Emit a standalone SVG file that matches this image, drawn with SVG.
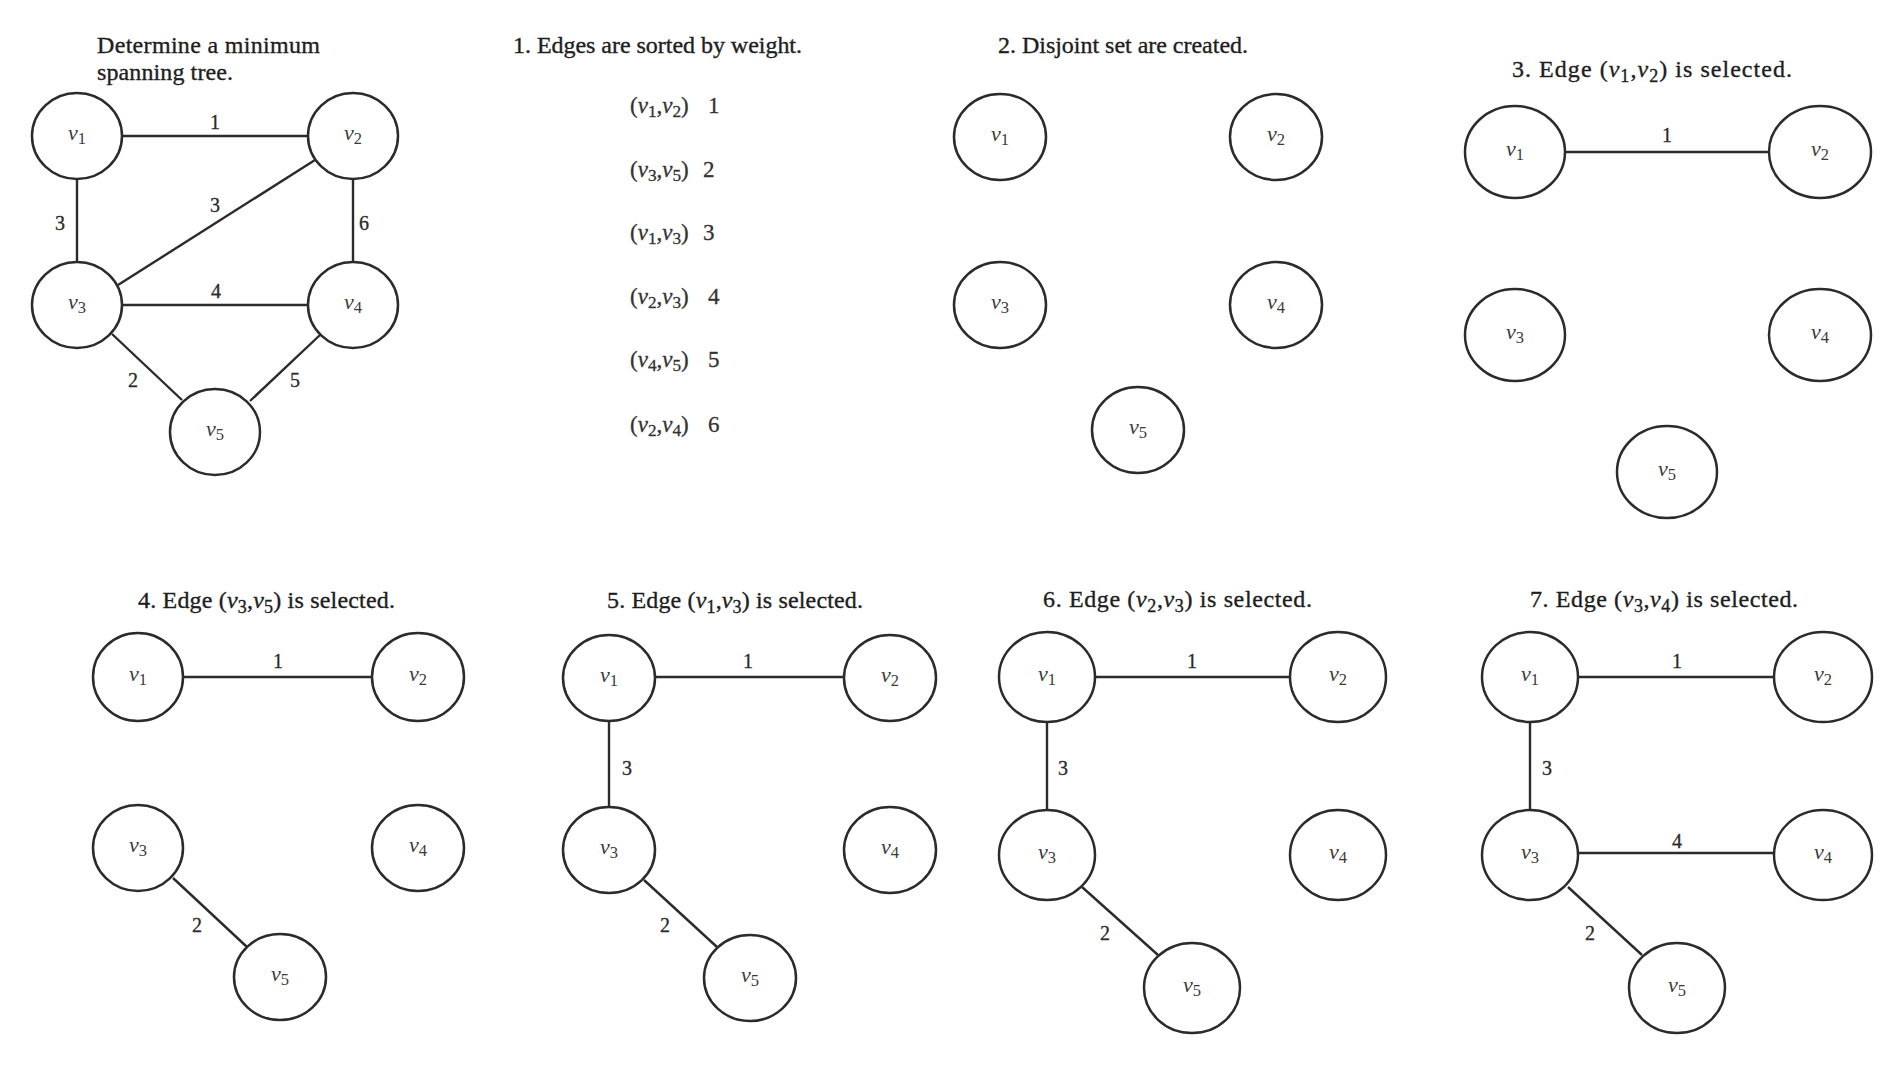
<svg xmlns="http://www.w3.org/2000/svg" width="1902" height="1070" viewBox="0 0 1902 1070">
<style>
.n{fill:none;stroke:#2b2b2b;stroke-width:2.5}
.e{stroke:#2b2b2b;stroke-width:2.4;fill:none}
.t{font-family:"Liberation Serif",serif;font-size:24px;fill:#1e1e1e;stroke:#1e1e1e;stroke-width:0.35}
.l{font-family:"Liberation Serif",serif;font-size:23px;fill:#333;stroke:#333;stroke-width:0.3}
.w{font-family:"Liberation Serif",serif;font-size:20px;fill:#2a2a2a;stroke:#2a2a2a;stroke-width:0.3;text-anchor:middle}
.v{font-family:"Liberation Serif",serif;font-size:22px;fill:#3a3a3a;text-anchor:middle}
.i{font-style:italic}
.s{font-size:75%}
</style>
<rect width="1902" height="1070" fill="#ffffff"/>

<!-- Titles -->
<g id="titles">
<text class="t" x="97" y="53" textLength="223">Determine a minimum</text>
<text class="t" x="97" y="80" textLength="136">spanning tree.</text>
<text class="t" x="513" y="53" textLength="289">1. Edges are sorted by weight.</text>
<text class="t" x="998" y="53" textLength="250">2. Disjoint set are created.</text>
<text class="t" x="1512" y="77" textLength="280">3. Edge (<tspan class="i">v</tspan><tspan class="s" dy="5">1</tspan><tspan dy="-5">,</tspan><tspan class="i">v</tspan><tspan class="s" dy="5">2</tspan><tspan dy="-5">) is selected.</tspan></text>
<text class="t" x="138" y="608" textLength="257">4. Edge (<tspan class="i">v</tspan><tspan class="s" dy="5">3</tspan><tspan dy="-5">,</tspan><tspan class="i">v</tspan><tspan class="s" dy="5">5</tspan><tspan dy="-5">) is selected.</tspan></text>
<text class="t" x="607" y="608" textLength="256">5. Edge (<tspan class="i">v</tspan><tspan class="s" dy="5">1</tspan><tspan dy="-5">,</tspan><tspan class="i">v</tspan><tspan class="s" dy="5">3</tspan><tspan dy="-5">) is selected.</tspan></text>
<text class="t" x="1043" y="607" textLength="269">6. Edge (<tspan class="i">v</tspan><tspan class="s" dy="5">2</tspan><tspan dy="-5">,</tspan><tspan class="i">v</tspan><tspan class="s" dy="5">3</tspan><tspan dy="-5">) is selected.</tspan></text>
<text class="t" x="1530" y="607" textLength="268">7. Edge (<tspan class="i">v</tspan><tspan class="s" dy="5">3</tspan><tspan dy="-5">,</tspan><tspan class="i">v</tspan><tspan class="s" dy="5">4</tspan><tspan dy="-5">) is selected.</tspan></text>
</g>

<!-- Sorted edge list -->
<g id="sorted-list">
<text class="l" x="630" y="113">(<tspan class="i">v</tspan><tspan class="s" dy="4">1</tspan><tspan dy="-4">,</tspan><tspan class="i">v</tspan><tspan class="s" dy="4">2</tspan><tspan dy="-4">)</tspan></text><text class="l" x="708" y="113">1</text>
<text class="l" x="630" y="177">(<tspan class="i">v</tspan><tspan class="s" dy="4">3</tspan><tspan dy="-4">,</tspan><tspan class="i">v</tspan><tspan class="s" dy="4">5</tspan><tspan dy="-4">)</tspan></text><text class="l" x="703" y="177">2</text>
<text class="l" x="630" y="240">(<tspan class="i">v</tspan><tspan class="s" dy="4">1</tspan><tspan dy="-4">,</tspan><tspan class="i">v</tspan><tspan class="s" dy="4">3</tspan><tspan dy="-4">)</tspan></text><text class="l" x="703" y="240">3</text>
<text class="l" x="630" y="304">(<tspan class="i">v</tspan><tspan class="s" dy="4">2</tspan><tspan dy="-4">,</tspan><tspan class="i">v</tspan><tspan class="s" dy="4">3</tspan><tspan dy="-4">)</tspan></text><text class="l" x="708" y="304">4</text>
<text class="l" x="630" y="367">(<tspan class="i">v</tspan><tspan class="s" dy="4">4</tspan><tspan dy="-4">,</tspan><tspan class="i">v</tspan><tspan class="s" dy="4">5</tspan><tspan dy="-4">)</tspan></text><text class="l" x="708" y="367">5</text>
<text class="l" x="630" y="432">(<tspan class="i">v</tspan><tspan class="s" dy="4">2</tspan><tspan dy="-4">,</tspan><tspan class="i">v</tspan><tspan class="s" dy="4">4</tspan><tspan dy="-4">)</tspan></text><text class="l" x="708" y="432">6</text>
</g>

<!-- Connectors -->
<g id="connectors">
<!-- panel 0 -->
<line class="e" x1="122" y1="136" x2="308" y2="136"/>
<line class="e" x1="77" y1="179" x2="77" y2="262"/>
<line class="e" x1="315" y1="160" x2="118" y2="285"/>
<line class="e" x1="353" y1="179" x2="353" y2="262"/>
<line class="e" x1="122" y1="305" x2="308" y2="305"/>
<line class="e" x1="112" y1="334" x2="182" y2="400"/>
<line class="e" x1="320" y1="335" x2="250" y2="401"/>
<!-- panel 3 -->
<line class="e" x1="1565" y1="152" x2="1768" y2="152"/>
<!-- panel 4 -->
<line class="e" x1="183" y1="677" x2="373" y2="677"/>
<line class="e" x1="173" y1="878" x2="247" y2="947"/>
<!-- panel 5 -->
<line class="e" x1="655" y1="677" x2="845" y2="677"/>
<line class="e" x1="609" y1="721" x2="609" y2="807"/>
<line class="e" x1="644" y1="880" x2="717" y2="947"/>
<!-- panel 6 -->
<line class="e" x1="1095" y1="677" x2="1290" y2="677"/>
<line class="e" x1="1047" y1="722" x2="1047" y2="810"/>
<line class="e" x1="1082" y1="887" x2="1158" y2="955"/>
<!-- panel 7 -->
<line class="e" x1="1578" y1="677" x2="1775" y2="677"/>
<line class="e" x1="1530" y1="722" x2="1530" y2="810"/>
<line class="e" x1="1578" y1="853" x2="1775" y2="853"/>
<line class="e" x1="1568" y1="887" x2="1642" y2="955"/>
</g>

<!-- Edge weights -->
<g id="weights">
<text class="w" x="215" y="129">1</text>
<text class="w" x="60" y="230">3</text>
<text class="w" x="215" y="212">3</text>
<text class="w" x="364" y="230">6</text>
<text class="w" x="216" y="298">4</text>
<text class="w" x="133" y="387">2</text>
<text class="w" x="295" y="387">5</text>
<text class="w" x="1667" y="142">1</text>
<text class="w" x="278" y="668">1</text>
<text class="w" x="197" y="932">2</text>
<text class="w" x="748" y="668">1</text>
<text class="w" x="627" y="775">3</text>
<text class="w" x="665" y="932">2</text>
<text class="w" x="1192" y="668">1</text>
<text class="w" x="1063" y="775">3</text>
<text class="w" x="1105" y="940">2</text>
<text class="w" x="1677" y="668">1</text>
<text class="w" x="1547" y="775">3</text>
<text class="w" x="1677" y="848">4</text>
<text class="w" x="1590" y="940">2</text>
</g>

<!-- Panel 0 nodes -->
<g id="p0-v1"><ellipse class="n" cx="77" cy="136" rx="45" ry="43"/><text class="v" x="77" y="140"><tspan class="i">v</tspan><tspan class="s" dy="4">1</tspan></text></g>
<g id="p0-v2"><ellipse class="n" cx="353" cy="136" rx="45" ry="43"/><text class="v" x="353" y="140"><tspan class="i">v</tspan><tspan class="s" dy="4">2</tspan></text></g>
<g id="p0-v3"><ellipse class="n" cx="77" cy="305" rx="45" ry="43"/><text class="v" x="77" y="309"><tspan class="i">v</tspan><tspan class="s" dy="4">3</tspan></text></g>
<g id="p0-v4"><ellipse class="n" cx="353" cy="305" rx="45" ry="43"/><text class="v" x="353" y="309"><tspan class="i">v</tspan><tspan class="s" dy="4">4</tspan></text></g>
<g id="p0-v5"><ellipse class="n" cx="215" cy="432" rx="45" ry="43"/><text class="v" x="215" y="436"><tspan class="i">v</tspan><tspan class="s" dy="4">5</tspan></text></g>

<!-- Panel 2 nodes -->
<g id="p2-v1"><ellipse class="n" cx="1000" cy="137" rx="46" ry="43"/><text class="v" x="1000" y="141"><tspan class="i">v</tspan><tspan class="s" dy="4">1</tspan></text></g>
<g id="p2-v2"><ellipse class="n" cx="1276" cy="137" rx="46" ry="43"/><text class="v" x="1276" y="141"><tspan class="i">v</tspan><tspan class="s" dy="4">2</tspan></text></g>
<g id="p2-v3"><ellipse class="n" cx="1000" cy="305" rx="46" ry="43"/><text class="v" x="1000" y="309"><tspan class="i">v</tspan><tspan class="s" dy="4">3</tspan></text></g>
<g id="p2-v4"><ellipse class="n" cx="1276" cy="305" rx="46" ry="43"/><text class="v" x="1276" y="309"><tspan class="i">v</tspan><tspan class="s" dy="4">4</tspan></text></g>
<g id="p2-v5"><ellipse class="n" cx="1138" cy="430" rx="46" ry="43"/><text class="v" x="1138" y="434"><tspan class="i">v</tspan><tspan class="s" dy="4">5</tspan></text></g>

<!-- Panel 3 nodes -->
<g id="p3-v1"><ellipse class="n" cx="1515" cy="152" rx="50" ry="46"/><text class="v" x="1515" y="156"><tspan class="i">v</tspan><tspan class="s" dy="4">1</tspan></text></g>
<g id="p3-v2"><ellipse class="n" cx="1820" cy="152" rx="51" ry="46"/><text class="v" x="1820" y="156"><tspan class="i">v</tspan><tspan class="s" dy="4">2</tspan></text></g>
<g id="p3-v3"><ellipse class="n" cx="1515" cy="335" rx="50" ry="46"/><text class="v" x="1515" y="339"><tspan class="i">v</tspan><tspan class="s" dy="4">3</tspan></text></g>
<g id="p3-v4"><ellipse class="n" cx="1820" cy="335" rx="51" ry="46"/><text class="v" x="1820" y="339"><tspan class="i">v</tspan><tspan class="s" dy="4">4</tspan></text></g>
<g id="p3-v5"><ellipse class="n" cx="1667" cy="472" rx="50" ry="46"/><text class="v" x="1667" y="476"><tspan class="i">v</tspan><tspan class="s" dy="4">5</tspan></text></g>

<!-- Panel 4 nodes -->
<g id="p4-v1"><ellipse class="n" cx="138" cy="677" rx="45" ry="44"/><text class="v" x="138" y="681"><tspan class="i">v</tspan><tspan class="s" dy="4">1</tspan></text></g>
<g id="p4-v2"><ellipse class="n" cx="418" cy="677" rx="46" ry="44"/><text class="v" x="418" y="681"><tspan class="i">v</tspan><tspan class="s" dy="4">2</tspan></text></g>
<g id="p4-v3"><ellipse class="n" cx="138" cy="848" rx="45" ry="43"/><text class="v" x="138" y="852"><tspan class="i">v</tspan><tspan class="s" dy="4">3</tspan></text></g>
<g id="p4-v4"><ellipse class="n" cx="418" cy="848" rx="46" ry="43"/><text class="v" x="418" y="852"><tspan class="i">v</tspan><tspan class="s" dy="4">4</tspan></text></g>
<g id="p4-v5"><ellipse class="n" cx="280" cy="977" rx="46" ry="43"/><text class="v" x="280" y="981"><tspan class="i">v</tspan><tspan class="s" dy="4">5</tspan></text></g>

<!-- Panel 5 nodes -->
<g id="p5-v1"><ellipse class="n" cx="609" cy="678" rx="46" ry="43"/><text class="v" x="609" y="682"><tspan class="i">v</tspan><tspan class="s" dy="4">1</tspan></text></g>
<g id="p5-v2"><ellipse class="n" cx="890" cy="678" rx="46" ry="43"/><text class="v" x="890" y="682"><tspan class="i">v</tspan><tspan class="s" dy="4">2</tspan></text></g>
<g id="p5-v3"><ellipse class="n" cx="609" cy="850" rx="46" ry="43"/><text class="v" x="609" y="854"><tspan class="i">v</tspan><tspan class="s" dy="4">3</tspan></text></g>
<g id="p5-v4"><ellipse class="n" cx="890" cy="850" rx="46" ry="43"/><text class="v" x="890" y="854"><tspan class="i">v</tspan><tspan class="s" dy="4">4</tspan></text></g>
<g id="p5-v5"><ellipse class="n" cx="750" cy="978" rx="46" ry="43"/><text class="v" x="750" y="982"><tspan class="i">v</tspan><tspan class="s" dy="4">5</tspan></text></g>

<!-- Panel 6 nodes -->
<g id="p6-v1"><ellipse class="n" cx="1047" cy="677" rx="48" ry="45"/><text class="v" x="1047" y="681"><tspan class="i">v</tspan><tspan class="s" dy="4">1</tspan></text></g>
<g id="p6-v2"><ellipse class="n" cx="1338" cy="677" rx="48" ry="45"/><text class="v" x="1338" y="681"><tspan class="i">v</tspan><tspan class="s" dy="4">2</tspan></text></g>
<g id="p6-v3"><ellipse class="n" cx="1047" cy="855" rx="48" ry="45"/><text class="v" x="1047" y="859"><tspan class="i">v</tspan><tspan class="s" dy="4">3</tspan></text></g>
<g id="p6-v4"><ellipse class="n" cx="1338" cy="855" rx="48" ry="45"/><text class="v" x="1338" y="859"><tspan class="i">v</tspan><tspan class="s" dy="4">4</tspan></text></g>
<g id="p6-v5"><ellipse class="n" cx="1192" cy="988" rx="48" ry="45"/><text class="v" x="1192" y="992"><tspan class="i">v</tspan><tspan class="s" dy="4">5</tspan></text></g>

<!-- Panel 7 nodes -->
<g id="p7-v1"><ellipse class="n" cx="1530" cy="677" rx="48" ry="45"/><text class="v" x="1530" y="681"><tspan class="i">v</tspan><tspan class="s" dy="4">1</tspan></text></g>
<g id="p7-v2"><ellipse class="n" cx="1823" cy="677" rx="49" ry="45"/><text class="v" x="1823" y="681"><tspan class="i">v</tspan><tspan class="s" dy="4">2</tspan></text></g>
<g id="p7-v3"><ellipse class="n" cx="1530" cy="855" rx="48" ry="45"/><text class="v" x="1530" y="859"><tspan class="i">v</tspan><tspan class="s" dy="4">3</tspan></text></g>
<g id="p7-v4"><ellipse class="n" cx="1823" cy="855" rx="49" ry="45"/><text class="v" x="1823" y="859"><tspan class="i">v</tspan><tspan class="s" dy="4">4</tspan></text></g>
<g id="p7-v5"><ellipse class="n" cx="1677" cy="988" rx="48" ry="45"/><text class="v" x="1677" y="992"><tspan class="i">v</tspan><tspan class="s" dy="4">5</tspan></text></g>
</svg>
